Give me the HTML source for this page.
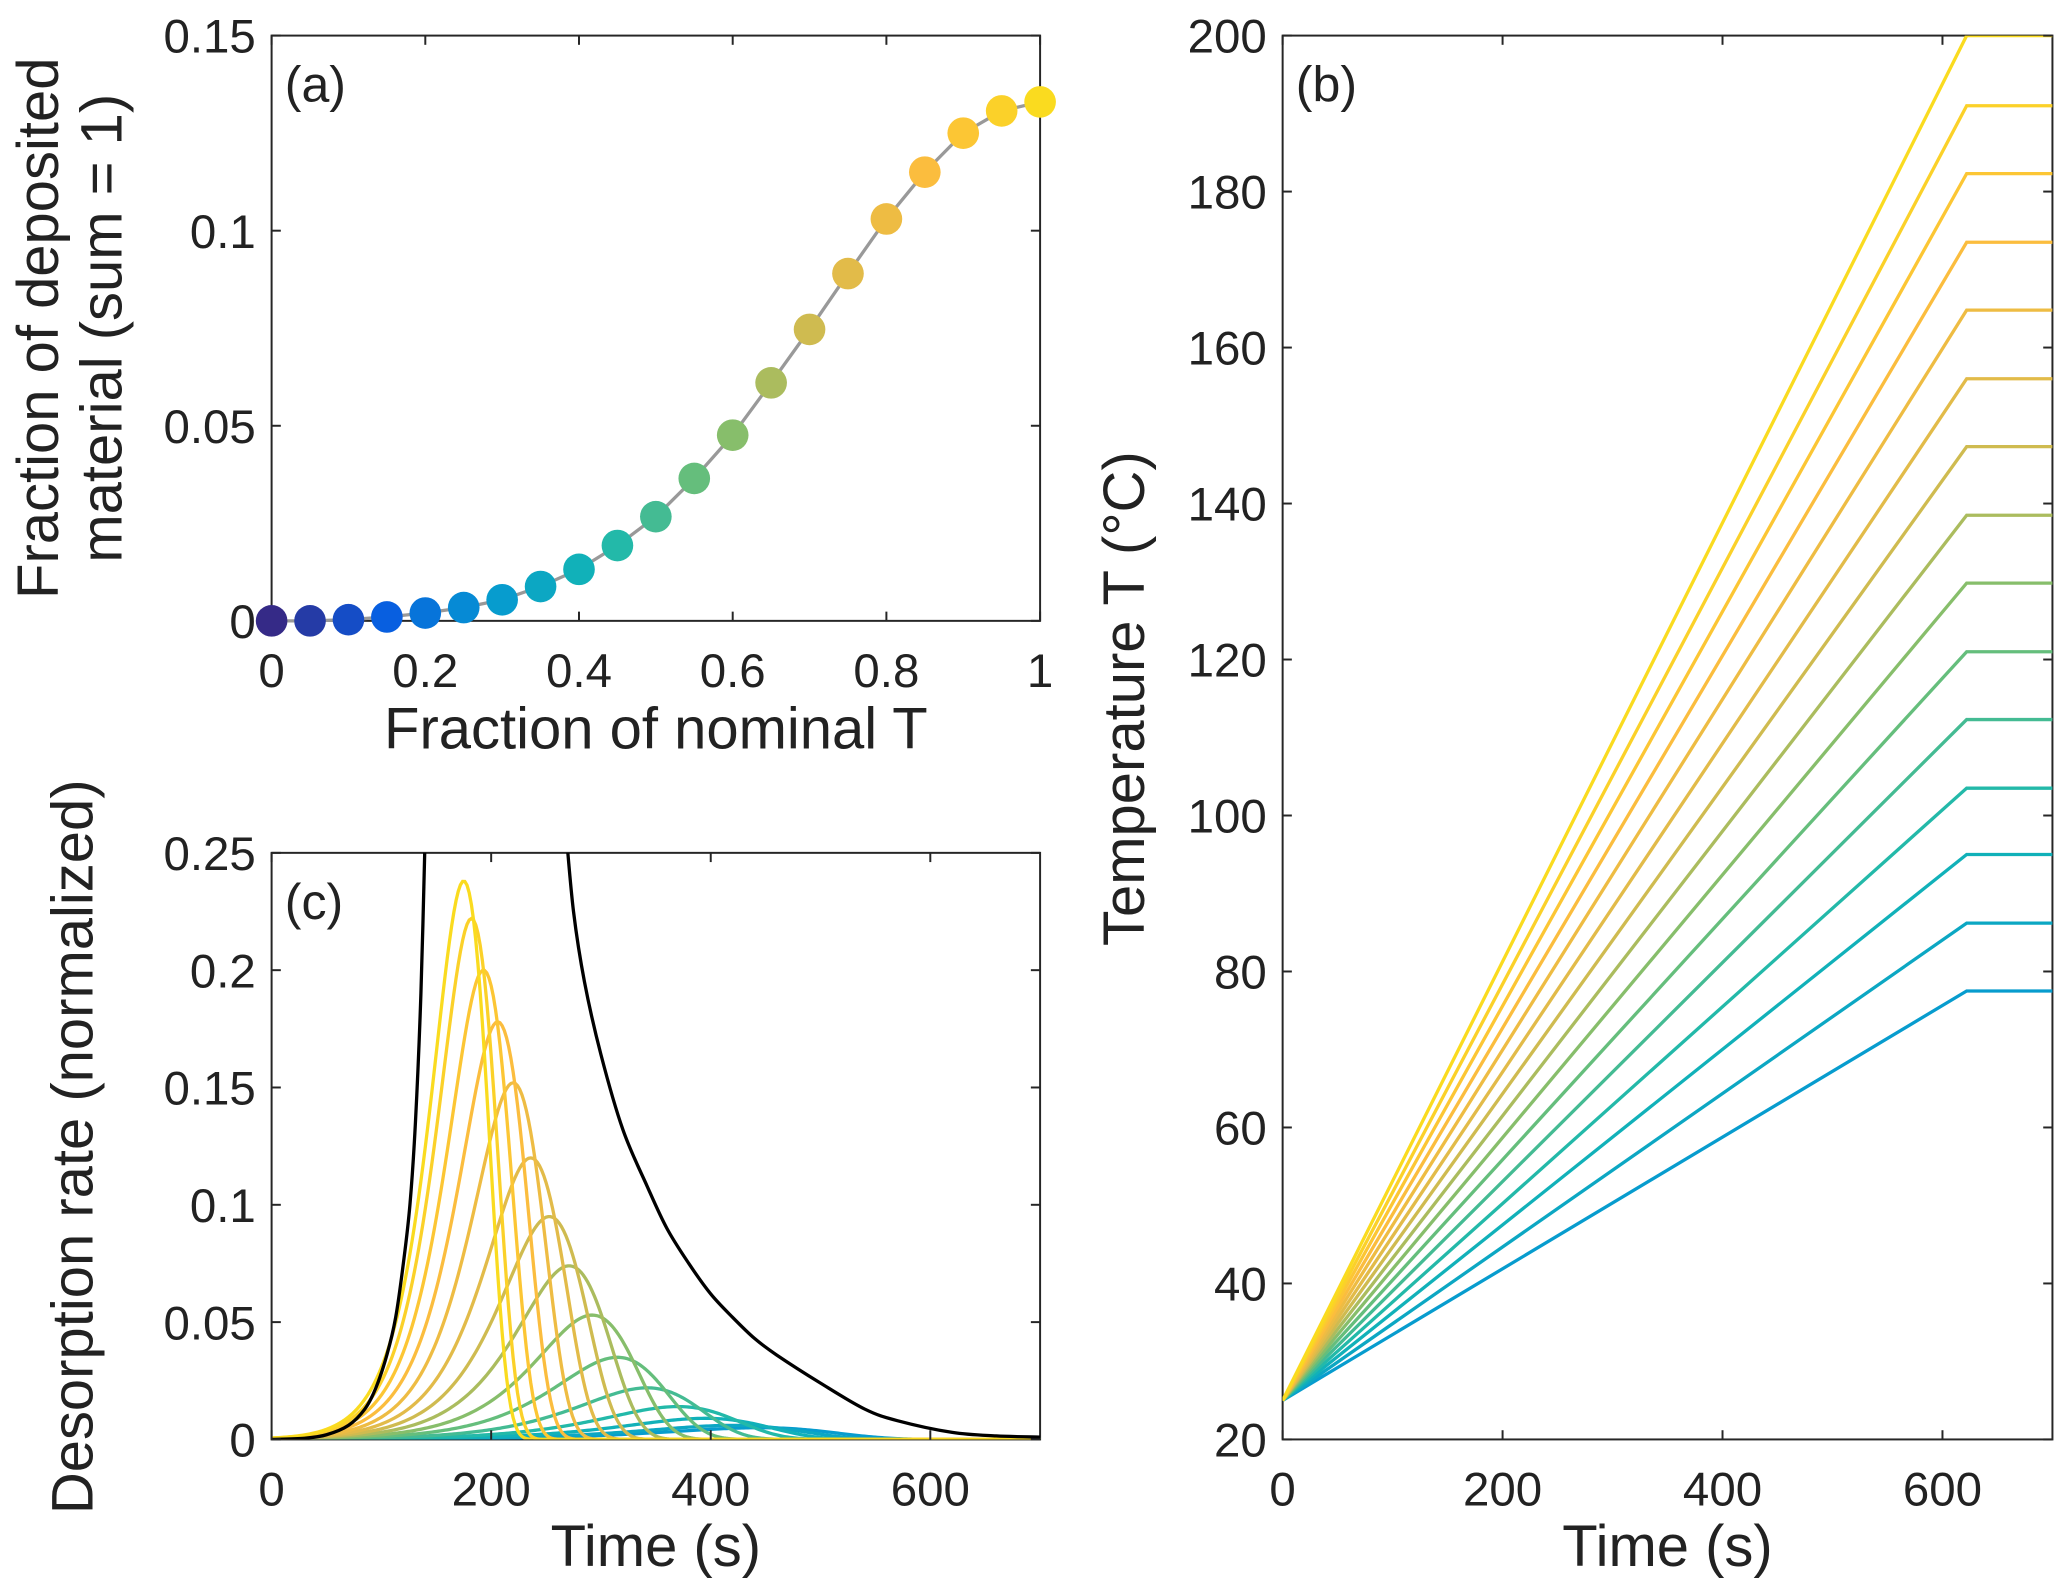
<!DOCTYPE html>
<html><head><meta charset="utf-8"><style>
html,body{margin:0;padding:0;background:#fff}
svg{display:block;font-family:"Liberation Sans",sans-serif}
</style></head><body>
<svg id="fig" width="2067" height="1593" viewBox="0 0 1568 1208.5"></svg>
<script>
// Panel (a) data
const aX = [0,0.05,0.1,0.15,0.2,0.25,0.3,0.35,0.4,0.45,0.5,0.55,0.6,0.65,0.7,0.75,0.8,0.85,0.9,0.95,1];
const aY = [0,0,0.0003,0.001,0.002,0.0034,0.0054,0.0088,0.0132,0.0193,0.0267,0.0365,0.0476,0.061,0.0747,0.089,0.103,0.115,0.125,0.1307,0.133];
// Panel (b) data: final temperatures of each ramp
const bFinal = [77.5,86.2,95,103.5,112.3,121,129.8,138.5,147.3,156,164.8,173.5,182.3,191,200];
const bStart = 25, bRampEnd = 622, bTmax = 700;
// Panel (c) data: peak time, peak height, width for each curve (blue->yellow)
const cPeakT = [470,445,420,395,370,342,315,292,271,253,236,220,206,193,182,175].slice(1);
const cPeakH = [0.005,0.006,0.009,0.014,0.022,0.035,0.053,0.074,0.095,0.12,0.152,0.178,0.2,0.222,0.238];
const cWidth = [75,70,65,60,55,50,45,41,38,35,32,30,28,26,25];
const envLeftT = [0,30,50,70,85,95,105,113,120,126,131,136,140];
const envLeftV = [0,0.0005,0.002,0.006,0.013,0.022,0.036,0.052,0.075,0.1,0.135,0.19,0.26];
const envRightT = [268,275,285,300,320,342,360,380,400,420,440,460,500,540,570,620,660,700];
const envRightV = [0.26,0.225,0.195,0.164,0.132,0.108,0.09,0.075,0.062,0.052,0.043,0.036,0.024,0.013,0.008,0.003,0.0015,0.001];

const NS="http://www.w3.org/2000/svg";
const svg=document.getElementById('fig');
function mk(tag,attrs,parent){const e=document.createElementNS(NS,tag);for(const k in attrs)e.setAttribute(k,attrs[k]);(parent||svg).appendChild(e);return e;}
function txt(s,x,y,size,anchor,parent,rot){const t=mk('text',{x:x,y:y,'font-size':size,'text-anchor':anchor||'middle',fill:'#222'},parent);if(rot)t.setAttribute('transform',`rotate(-90 ${x} ${y})`);t.textContent=s;return t;}
const stops=[[0.208,0.165,0.529],[0.03,0.36,0.88],[0.02,0.6,0.82],[0.08,0.72,0.7],[0.45,0.75,0.45],[0.85,0.73,0.3],[0.99,0.74,0.24],[0.98,0.86,0.12]];
function cmap(f){f=Math.max(0,Math.min(1,f));const p=f*(stops.length-1);const i=Math.min(stops.length-2,Math.floor(p));const u=p-i;const c=stops[i].map((v,k)=>Math.round(255*(v+(stops[i+1][k]-v)*u)));return `rgb(${c[0]},${c[1]},${c[2]})`;}
function smooth(pts){let d='M'+pts[0][0]+','+pts[0][1];for(let i=0;i<pts.length-1;i++){const p0=pts[i-1]||pts[i],p1=pts[i],p2=pts[i+1],p3=pts[i+2]||p2;d+=` C${p1[0]+(p2[0]-p0[0])/6},${p1[1]+(p2[1]-p0[1])/6} ${p2[0]-(p3[0]-p1[0])/6},${p2[1]-(p3[1]-p1[1])/6} ${p2[0]},${p2[1]}`;}return d;}

function axes(name,L,T,R,B){const g=mk('g',{},svg);mk('rect',{x:L,y:T,width:R-L,height:B-T,fill:'none',stroke:'#262626','stroke-width':1.5},g);return g;}

// ---------- Panel (a)
{const L=206,T=27,R=789,B=471;
const sx=v=>L+v*(R-L), sy=v=>B-v/0.15*(B-T);
const g=axes('panel-a',L,T,R,B);
[0,0.2,0.4,0.6,0.8,1].forEach(v=>{mk('line',{x1:sx(v),x2:sx(v),y1:B,y2:B-7,stroke:'#262626','stroke-width':1.5},g);mk('line',{x1:sx(v),x2:sx(v),y1:T,y2:T+7,stroke:'#262626','stroke-width':1.5},g);txt(String(v),sx(v),B+50,36,'middle',g);});
[[0,'0'],[0.05,'0.05'],[0.1,'0.1'],[0.15,'0.15']].forEach(([v,s])=>{mk('line',{x1:L,x2:L+7,y1:sy(v),y2:sy(v),stroke:'#262626','stroke-width':1.5},g);mk('line',{x1:R,x2:R-7,y1:sy(v),y2:sy(v),stroke:'#262626','stroke-width':1.5},g);txt(s,L-12,sy(v)+13,36,'end',g);});
const ln=mk('polyline',{points:aX.map((x,i)=>sx(x)+','+sy(aY[i])).join(' '),fill:'none',stroke:'#999','stroke-width':2.5},g);

aX.forEach((x,i)=>{const c=mk('circle',{cx:sx(x),cy:sy(aY[i]),r:12,fill:cmap(i/(aX.length-1))},g);});
txt('(a)',216,77,38,'start',g);
txt('Fraction of nominal T',(L+R)/2,568,44,'middle',g);
txt('Fraction of deposited',44,249,44,'middle',g,true);
txt('material (sum = 1)',92,249,44,'middle',g,true);
}
// ---------- Panel (b)
{const L=973,T=27,R=1557,B=1092;
const sx=v=>L+v/700*(R-L), sy=v=>B-(v-20)/180*(B-T);
const g=axes('panel-b',L,T,R,B);
const clip=mk('clipPath',{id:'cb'},svg);mk('rect',{x:L,y:T,width:R-L,height:B-T},clip);
const lg=mk('g',{'clip-path':'url(#cb)'},g);
bFinal.forEach((Tf,i)=>{const p=mk('polyline',{points:`${sx(0)},${sy(bStart)} ${sx(bRampEnd)},${sy(Tf)} ${sx(bTmax)},${sy(Tf)}`,fill:'none',stroke:cmap(0.3+0.7*i/(bFinal.length-1)),'stroke-width':2.5},lg);});
[0,200,400,600].forEach(v=>{mk('line',{x1:sx(v),x2:sx(v),y1:B,y2:B-7,stroke:'#262626','stroke-width':1.5},g);mk('line',{x1:sx(v),x2:sx(v),y1:T,y2:T+7,stroke:'#262626','stroke-width':1.5},g);txt(String(v),sx(v),B+50,36,'middle',g);});
for(let v=20;v<=200;v+=20){mk('line',{x1:L,x2:L+7,y1:sy(v),y2:sy(v),stroke:'#262626','stroke-width':1.5},g);mk('line',{x1:R,x2:R-7,y1:sy(v),y2:sy(v),stroke:'#262626','stroke-width':1.5},g);txt(String(v),L-12,sy(v)+13,36,'end',g);}
txt('(b)',983,77,38,'start',g);
txt('Time (s)',(L+R)/2,1188,44,'middle',g);
txt('Temperature T (°C)',868,530,44,'middle',g,true);
}
// ---------- Panel (c)
{const L=206,T=647,R=789,B=1092;
const sx=v=>L+v/700*(R-L), sy=v=>B-v/0.25*(B-T);
const g=axes('panel-c',L,T,R,B);
const clip=mk('clipPath',{id:'cc'},svg);mk('rect',{x:L,y:T,width:R-L,height:B-T},clip);
const lg=mk('g',{'clip-path':'url(#cc)'},g);
cPeakT.forEach((tp,i)=>{const pts=[];for(let t=0;t<=700;t+=2){const z=(t-tp)/cWidth[i];const v=cPeakH[i]*Math.exp(1+z-Math.exp(z));pts.push(sx(t)+','+sy(v));}
const p=mk('polyline',{points:pts.join(' '),fill:'none',stroke:cmap(0.3+0.7*i/(cPeakT.length-1)),'stroke-width':2.5},lg);});
[[envLeftT,envLeftV],[envRightT,envRightV]].forEach(([ts,vs])=>{const p=mk('path',{d:smooth(ts.map((t,i)=>[sx(t),sy(vs[i])])),fill:'none',stroke:'#000','stroke-width':2.5},lg);});
[0,200,400,600].forEach(v=>{mk('line',{x1:sx(v),x2:sx(v),y1:B,y2:B-7,stroke:'#262626','stroke-width':1.5},g);mk('line',{x1:sx(v),x2:sx(v),y1:T,y2:T+7,stroke:'#262626','stroke-width':1.5},g);txt(String(v),sx(v),B+50,36,'middle',g);});
[[0,'0'],[0.05,'0.05'],[0.1,'0.1'],[0.15,'0.15'],[0.2,'0.2'],[0.25,'0.25']].forEach(([v,s])=>{mk('line',{x1:L,x2:L+7,y1:sy(v),y2:sy(v),stroke:'#262626','stroke-width':1.5},g);mk('line',{x1:R,x2:R-7,y1:sy(v),y2:sy(v),stroke:'#262626','stroke-width':1.5},g);txt(s,L-12,sy(v)+13,36,'end',g);});
txt('(c)',216,697,38,'start',g);
txt('Time (s)',(L+R)/2,1188,44,'middle',g);
txt('Desorption rate (normalized)',70,870,44,'middle',g,true);
}
</script>
</body></html>
